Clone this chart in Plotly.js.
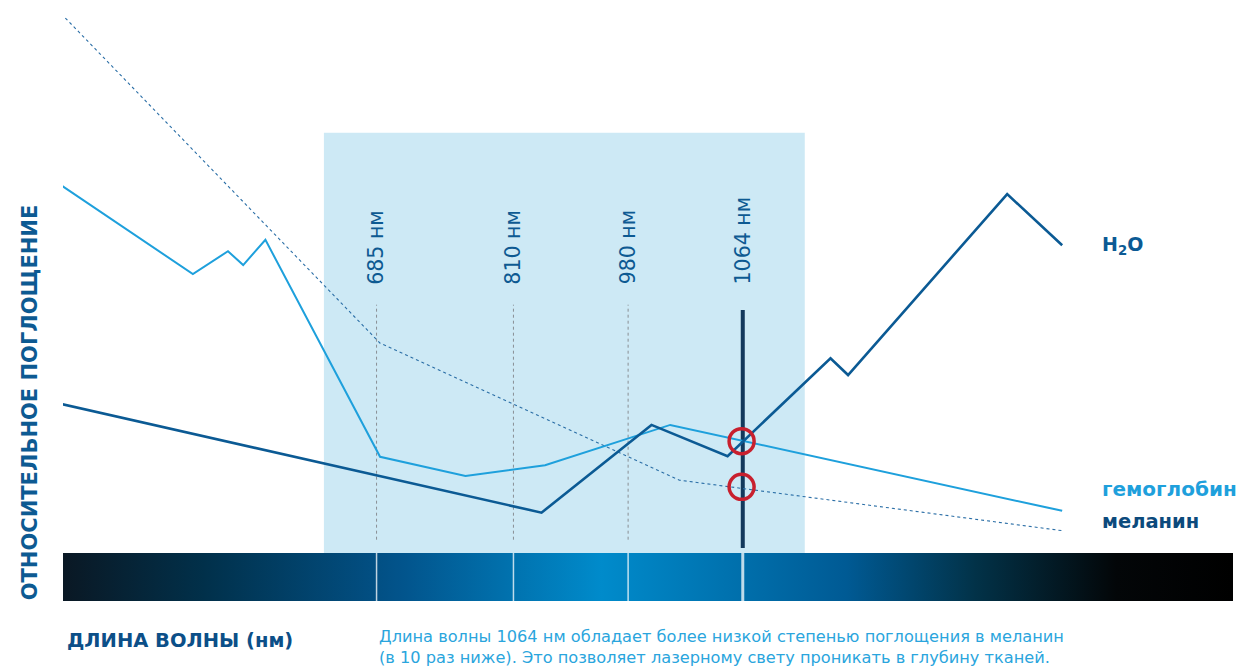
<!DOCTYPE html>
<html>
<head>
<meta charset="utf-8">
<script src="https://cdn.plot.ly/plotly-3.0.1.min.js"></script>
<style>html,body{margin:0;padding:0;background:#fff;}#chart{width:1244px;height:667px;}</style>
</head>
<body>
<div id="chart"></div>
<script>
// Relative units: x 0..100 across the spectrum bar, y = relative absorption
const melaninX = [0.2, 27.1, 52.7, 85.4];
const melaninY = [89.0, 34.9, 12.1, 3.7];

const hemoX = [-0.1, 11.1, 14.1, 15.4, 17.3, 27.1, 34.4, 41.2, 51.9, 85.4];
const hemoY = [61.1, 46.4, 50.2, 47.9, 52.1, 16.0, 12.8, 14.6, 21.3, 7.0];

const waterX = [-0.2, 40.9, 50.3, 56.8, 65.6, 67.1, 80.7, 85.4];
const waterY = [24.8, 6.7, 21.3, 16.1, 32.4, 29.6, 59.7, 51.2];

const wavelengthLabels = ["685 нм", "810 нм", "980 нм", "1064 нм"];
const wavelengthX = [26.8, 38.5, 48.3, 58.1];

const circleX = [58.0, 58.0];
const circleY = [18.6, 11.0];

const seriesNames = ["H<sub>2</sub>O", "гемоглобин", "меланин"];
const seriesLabelY = [51.2, 10.6, 5.2];

const windowX = [22.3, 63.4];
const windowTop = 69.9;
const barRange = [-8, 0];
const guideRange = [2.2, 41.3];
const mainGuideRange = [0.8, 40.4];
const labelBaseY = 44.3;

const yTitle = "ОТНОСИТЕЛЬНОЕ ПОГЛОЩЕНИЕ";
const xTitle = "ДЛИНА ВОЛНЫ (нм)";
const note1 = "Длина волны 1064 нм обладает более низкой степенью поглощения в меланин";
const note2 = "(в 10 раз ниже). Это позволяет лазерному свету проникать в глубину тканей.";

const FONT = "DejaVu Sans, Verdana, sans-serif";
const DARK = "#0b5a94";
const LIGHT = "#1ea0dc";
const RED = "#c8202e";

const traces = [];

// gradient spectrum bar
traces.push({
  x: [0, 100, 100, 0, 0],
  y: [barRange[0], barRange[0], barRange[1], barRange[1], barRange[0]],
  mode: "lines", line: {width: 0}, fill: "toself",
  fillgradient: {
    type: "horizontal",
    colorscale: [
      [0, "#0a1824"], [0.12, "#01304a"], [0.29, "#02548c"], [0.46, "#008bcb"],
      [0.67, "#005a94"], [0.78, "#023248"], [0.9, "#030608"], [1, "#000000"]
    ]
  },
  hoverinfo: "skip", showlegend: false
});

// white guides in the bar
wavelengthX.forEach((gx, i) => {
  traces.push({
    x: [gx, gx], y: barRange, mode: "lines",
    line: {color: "rgba(255,255,255,0.75)", width: i === 3 ? 3 : 1.5},
    hoverinfo: "skip", showlegend: false
  });
});

// dashed guides
wavelengthX.slice(0, 3).forEach(gx => {
  traces.push({
    x: [gx, gx], y: guideRange, mode: "lines",
    line: {color: "#8a8f94", width: 1, dash: "3px,3px"},
    hoverinfo: "skip", showlegend: false
  });
});
// 1064 solid guide
traces.push({
  x: [wavelengthX[3], wavelengthX[3]], y: mainGuideRange, mode: "lines",
  line: {color: "#13395c", width: 4},
  hoverinfo: "skip", showlegend: false
});

traces.push({x: melaninX, y: melaninY, mode: "lines",
  line: {color: "#2a6ea6", width: 1.1, dash: "dot"}, showlegend: false, hoverinfo: "skip"});
traces.push({x: hemoX, y: hemoY, mode: "lines",
  line: {color: LIGHT, width: 2}, showlegend: false, hoverinfo: "skip"});
traces.push({x: waterX, y: waterY, mode: "lines",
  line: {color: DARK, width: 2.6}, showlegend: false, hoverinfo: "skip"});

traces.push({x: circleX, y: circleY, mode: "markers",
  marker: {symbol: "circle-open", size: 25, color: RED, line: {color: RED, width: 3.5}},
  showlegend: false, hoverinfo: "skip"});

const annotations = [];
wavelengthLabels.forEach((t, i) => {
  annotations.push({
    x: wavelengthX[i], y: labelBaseY, xref: "x", yref: "y",
    text: t, textangle: -90, showarrow: false,
    xanchor: "center", yanchor: "bottom",
    font: {family: FONT, size: 20.5, color: "#0d5a92"}
  });
});
const labelColors = [DARK, LIGHT, "#0c4a7c"];
const labelSizes = [19, 20, 19.5];
seriesNames.forEach((t, i) => {
  annotations.push({
    x: 88.6, y: seriesLabelY[i], xref: "x", yref: "y", text: "<b>" + t + "</b>",
    showarrow: false, xanchor: "left", yanchor: "middle",
    font: {family: FONT, size: labelSizes[i], color: labelColors[i]}
  });
});
annotations.push({
  x: -0.028, y: 25.1, xref: "paper", yref: "y", text: "<b>" + yTitle + "</b>",
  textangle: -90, showarrow: false, xanchor: "center", yanchor: "middle",
  font: {family: FONT, size: 21, color: "#0d5a92"}
});
annotations.push({
  x: 0.0017, y: -0.065, xref: "paper", yref: "paper", text: "<b>" + xTitle + "</b>",
  showarrow: false, xanchor: "left", yanchor: "middle",
  font: {family: FONT, size: 19.5, color: "#0c4f88"}
});
annotations.push({
  x: 0.2684, y: -0.059, xref: "paper", yref: "paper", text: note1,
  showarrow: false, xanchor: "left", yanchor: "middle",
  font: {family: FONT, size: 16.2, color: "#2aa5dd"}
});
annotations.push({
  x: 0.2684, y: -0.094, xref: "paper", yref: "paper", text: note2,
  showarrow: false, xanchor: "left", yanchor: "middle",
  font: {family: FONT, size: 16.2, color: "#2aa5dd"}
});

const layout = {
  width: 1244, height: 667,
  margin: {l: 63, r: 11, t: 0, b: 66},
  paper_bgcolor: "#ffffff", plot_bgcolor: "#ffffff",
  xaxis: {range: [0, 100], visible: false, fixedrange: true},
  yaxis: {range: [-8, 92], visible: false, fixedrange: true},
  shapes: [{
    type: "rect", xref: "x", yref: "y", layer: "below",
    x0: windowX[0], x1: windowX[1], y0: 0, y1: windowTop,
    fillcolor: "#cde9f5", line: {width: 0}
  }],
  annotations: annotations,
  showlegend: false
};

Plotly.newPlot("chart", traces, layout, {displayModeBar: false, staticPlot: true});
</script>
</body>
</html>
